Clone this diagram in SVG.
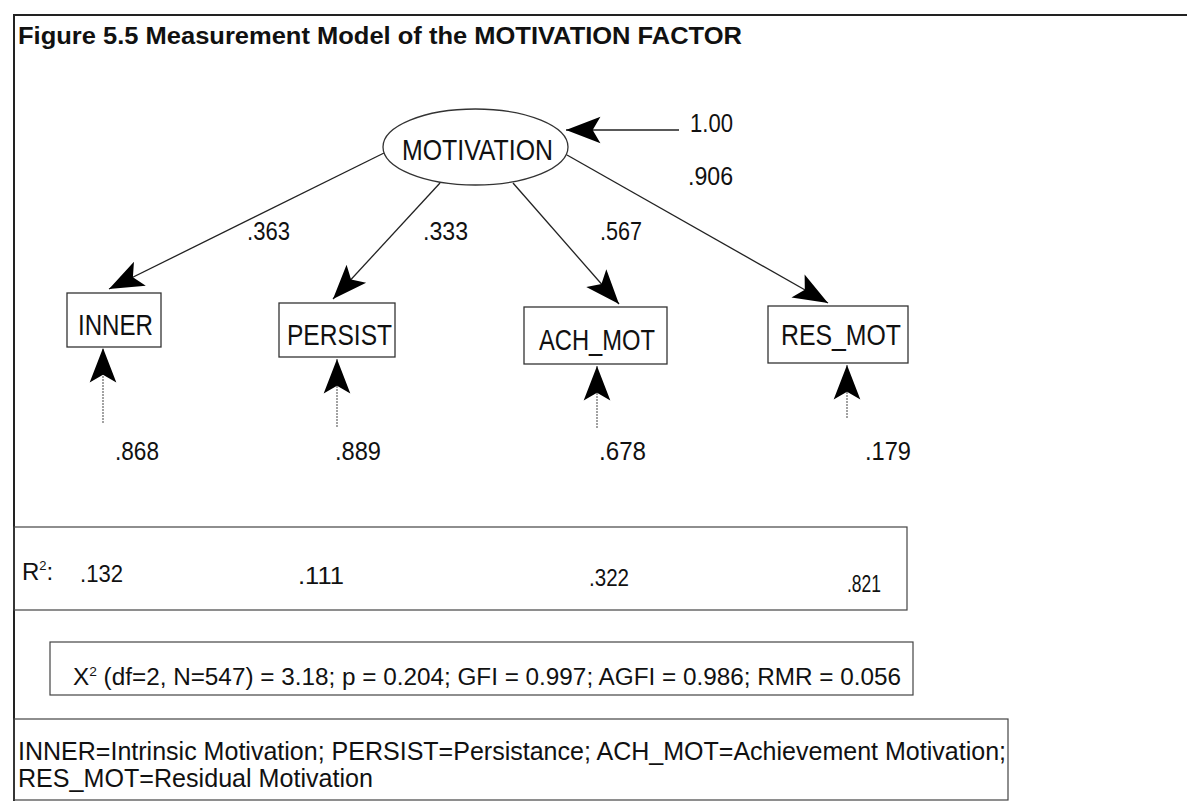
<svg xmlns="http://www.w3.org/2000/svg" width="1187" height="803" viewBox="0 0 1187 803">
  <style>
    text { font-family: "Liberation Sans", Arial, sans-serif; fill: #111; }
    .title { font-weight: bold; font-size: 23px; }
    .lbl { font-size: 30px; }
    .num { font-size: 26px; }
    .r2 { font-size: 24px; }
    .chi { font-size: 23px; }
    .leg { font-size: 25px; }
    .box { fill: #fff; stroke: #333; stroke-width: 1.3; }
    .frame { fill: none; stroke: #222; stroke-width: 2; }
    .thin { fill: none; stroke: #444; stroke-width: 1.2; }
    .load { stroke: #222; stroke-width: 1.3; fill: none; marker-end: url(#ah); }
    .err { stroke: #666; stroke-width: 1.2; stroke-dasharray: 2 1; fill: none; marker-end: url(#ah); }
  </style>
  <defs>
    <marker id="ah" markerUnits="userSpaceOnUse" markerWidth="40" markerHeight="40" viewBox="-32 -16 36 32" refX="0" refY="0" orient="auto">
      <path d="M0,0 L-31,-12 L-24,0 L-31,12 Z" fill="#000"/>
    </marker>
  </defs>
  <rect width="1187" height="803" fill="#fff"/>

  <!-- outer frame -->
  <g id="frame">
    <line class="frame" x1="13" y1="15" x2="1187" y2="15"/>
    <line class="frame" x1="14" y1="15" x2="14" y2="801"/>
  </g>

  <text id="title" class="title" x="18" y="44" textLength="724" lengthAdjust="spacingAndGlyphs">Figure 5.5 Measurement Model of the MOTIVATION FACTOR</text>

  <g id="connectors">
    <line class="load" x1="679" y1="130" x2="566" y2="130"/>
    <line class="load" x1="384" y1="153" x2="109" y2="289"/>
    <line class="load" x1="440" y1="183" x2="333" y2="299"/>
    <line class="load" x1="513" y1="183" x2="619" y2="304"/>
    <line class="load" x1="567" y1="155" x2="828" y2="303"/>
    <line class="err" x1="103" y1="423" x2="103" y2="348"/>
    <line class="err" x1="337" y1="427" x2="337" y2="359"/>
    <line class="err" x1="597" y1="428" x2="597" y2="366"/>
    <line class="err" x1="847" y1="418" x2="847" y2="365"/>
  </g>

  <g id="node-motivation">
    <ellipse class="box" cx="475.5" cy="147" rx="92.5" ry="38"/>
    <text class="lbl" x="402" y="160" textLength="151" lengthAdjust="spacingAndGlyphs">MOTIVATION</text>
  </g>
  <g id="node-inner">
    <rect class="box" x="67" y="293" width="94" height="54"/>
    <text class="lbl" x="78" y="335" textLength="75" lengthAdjust="spacingAndGlyphs">INNER</text>
  </g>
  <g id="node-persist">
    <rect class="box" x="279" y="303" width="116" height="54"/>
    <text class="lbl" x="287" y="345" textLength="105" lengthAdjust="spacingAndGlyphs">PERSIST</text>
  </g>
  <g id="node-ach_mot">
    <rect class="box" x="524" y="307" width="143" height="57"/>
    <text class="lbl" x="539" y="350" textLength="116" lengthAdjust="spacingAndGlyphs">ACH_MOT</text>
  </g>
  <g id="node-res_mot">
    <rect class="box" x="768" y="306" width="140" height="57"/>
    <text class="lbl" x="781" y="345" textLength="120" lengthAdjust="spacingAndGlyphs">RES_MOT</text>
  </g>

  <g id="values">
    <text class="num" x="690" y="132" textLength="43" lengthAdjust="spacingAndGlyphs">1.00</text>
    <text class="num" x="688" y="185" textLength="45" lengthAdjust="spacingAndGlyphs">.906</text>
    <text class="num" x="247" y="240" textLength="43" lengthAdjust="spacingAndGlyphs">.363</text>
    <text class="num" x="423" y="240" textLength="45" lengthAdjust="spacingAndGlyphs">.333</text>
    <text class="num" x="600" y="240" textLength="42" lengthAdjust="spacingAndGlyphs">.567</text>
    <text class="num" x="115" y="460" textLength="44" lengthAdjust="spacingAndGlyphs">.868</text>
    <text class="num" x="335" y="460" textLength="46" lengthAdjust="spacingAndGlyphs">.889</text>
    <text class="num" x="599" y="460" textLength="47" lengthAdjust="spacingAndGlyphs">.678</text>
    <text class="num" x="865" y="460" textLength="46" lengthAdjust="spacingAndGlyphs">.179</text>
  </g>

  <g id="r2-box">
    <rect class="thin" x="14" y="527" width="893" height="83"/>
    <text class="r2" x="22" y="580">R<tspan font-size="13" dy="-10">2</tspan><tspan dy="10">:</tspan></text>
    <text class="r2" x="80" y="582" textLength="43" lengthAdjust="spacingAndGlyphs">.132</text>
    <text class="r2" x="298" y="584" textLength="46" lengthAdjust="spacingAndGlyphs">.111</text>
    <text class="r2" x="589" y="586" textLength="40" lengthAdjust="spacingAndGlyphs">.322</text>
    <text class="r2" x="847" y="592" textLength="34" lengthAdjust="spacingAndGlyphs">.821</text>
  </g>

  <g id="fit-box">
    <rect class="thin" x="50" y="642" width="863" height="53"/>
    <text class="chi" x="73" y="685" textLength="828" lengthAdjust="spacingAndGlyphs">X<tspan font-size="13" dy="-9">2</tspan><tspan dy="9"> (df=2, N=547) = 3.18; p = 0.204; GFI = 0.997; AGFI = 0.986; RMR = 0.056</tspan></text>
  </g>

  <g id="legend-box">
    <rect class="thin" x="14" y="719" width="994" height="81"/>
    <text class="leg" x="18" y="760" textLength="988" lengthAdjust="spacingAndGlyphs">INNER=Intrinsic Motivation; PERSIST=Persistance; ACH_MOT=Achievement Motivation;</text>
    <text class="leg" x="18" y="787" textLength="355" lengthAdjust="spacingAndGlyphs">RES_MOT=Residual Motivation</text>
  </g>
</svg>
